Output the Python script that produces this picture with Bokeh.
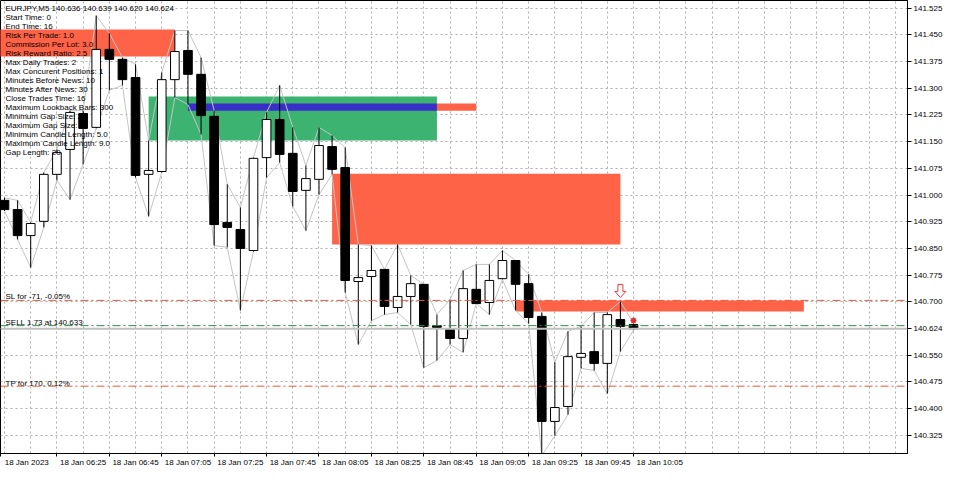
from bokeh.plotting import figure
from bokeh.models import Range1d, FixedTicker, PrintfTickFormatter, Span
from bokeh.core.properties import value
from bokeh.embed import file_html
from bokeh.resources import INLINE

# ---------------- data ----------------
symbol = "EURJPY,M5"
opens = [140.985, 140.959, 140.886, 140.926, 141.058, 141.128, 141.229, 141.190, 141.409, 141.381,
         141.330, 141.058, 141.066, 141.324, 141.406, 141.339, 141.221, 140.923, 140.903, 140.844,
         141.105, 141.212, 141.117, 141.013, 141.044, 141.136, 141.077, 140.757, 140.771, 140.791,
         140.684, 140.715, 140.749, 140.633, 140.622, 140.597, 140.735, 140.698, 140.765, 140.816,
         140.751, 140.659, 140.364, 140.406, 140.544, 140.560, 140.527, 140.650, 140.636]
highs = [140.992, 140.985, 140.923, 141.063, 141.128, 141.237, 141.237, 141.504, 141.454, 141.386,
         141.367, 141.153, 141.344, 141.462, 141.462, 141.386, 141.237, 141.030, 140.965, 141.105,
         141.232, 141.308, 141.190, 141.083, 141.190, 141.167, 141.133, 140.861, 140.858, 140.791,
         140.861, 140.774, 140.749, 140.664, 140.706, 140.788, 140.805, 140.805, 140.844, 140.816,
         140.777, 140.670, 140.530, 140.617, 140.631, 140.670, 140.670, 140.701, 140.639]
lows = [140.955, 140.875, 140.796, 140.909, 141.041, 140.987, 141.086, 141.187, 141.294, 141.308,
        141.049, 140.940, 141.063, 141.274, 141.254, 141.170, 140.858, 140.853, 140.676, 140.841,
        141.049, 141.091, 140.968, 140.900, 141.001, 141.058, 140.726, 140.580, 140.647, 140.664,
        140.670, 140.636, 140.515, 140.535, 140.580, 140.558, 140.695, 140.664, 140.763, 140.676,
        140.639, 140.268, 140.324, 140.383, 140.513, 140.507, 140.442, 140.560, 140.620]
closes = [140.959, 140.886, 140.920, 141.058, 141.119, 141.232, 141.187, 141.409, 141.381, 141.324,
          141.055, 141.069, 141.324, 141.403, 141.339, 141.223, 140.917, 140.909, 140.850, 141.103,
          141.212, 141.114, 141.010, 141.046, 141.139, 141.072, 140.760, 140.768, 140.788, 140.687,
          140.715, 140.751, 140.631, 140.628, 140.597, 140.737, 140.695, 140.760, 140.816, 140.749,
          140.656, 140.364, 140.403, 140.546, 140.555, 140.527, 140.664, 140.631, 140.624]
bars = list(range(len(opens)))

date_label = "18 Jan 2023"
x_tick_bars = [4, 8, 12, 16, 20, 24, 28, 32, 36, 40, 44, 48]
x_tick_labels = ["18 Jan 06:25", "18 Jan 06:45", "18 Jan 07:05", "18 Jan 07:25", "18 Jan 07:45",
                 "18 Jan 08:05", "18 Jan 08:25", "18 Jan 08:45", "18 Jan 09:05", "18 Jan 09:25",
                 "18 Jan 09:45", "18 Jan 10:05"]
price_ticks = [140.325, 140.400, 140.475, 140.550, 140.625, 140.700, 140.775, 140.850, 140.925,
               141.000, 141.075, 141.150, 141.225, 141.300, 141.375, 141.450, 141.525]

# zones (bar index start/end, price top/bottom)
zone_start = [-3, 11, 14, 33, 25, 39]
zone_end = [13, 33, 33, 36, 47, 61]
zone_top = [141.465, 141.277, 141.257, 141.257, 141.060, 140.704]
zone_bottom = [141.389, 141.153, 141.237, 141.237, 140.861, 140.673]
zone_color = ["#FF6347", "#3CB371", "#3A2EC9", "#FF6347", "#FF6347", "#FF6347"]

bid_price = 140.624
sl_price, entry_price, tp_price = 140.704, 140.633, 140.463
sl_text = "SL for -71, -0.05%"
entry_text = "SELL 1.73 at 140.633"
tp_text = "TP for 170, 0.12%"
arrow_bar = 47
star_bar = 48

params = ["Start Time: 0", "End Time: 16", "Risk Per Trade: 1.0", "Commission Per Lot: 3.0",
          "Risk Reward Ratio: 2.5", "Max Daily Trades: 2", "Max Concurent Positions: 1",
          "Minutes Before News: 10", "Minutes After News: 30", "Close Trades Time: 16",
          "Maximum Lookback Bars: 300", "Minimum Gap Size: 2", "Maximum Gap Size: 3",
          "Minimum Candle Length: 5.0", "Maximum Candle Length: 9.0", "Gap Length: 20"]

# ---------------- layout helpers (reference-pixel based) ----------------
BAR_PX = 13.104      # px per bar
X0_PX = 4.0          # px of bar 0
PX_PER_PRICE = 356.0
Y_REF_PX, Y_REF_PRICE = 304.3, 140.700
TOP_PX = 3           # reference px at the top of the frame
FRAME_W, FRAME_H = 907, 453
FONT = "Liberation Sans"
FS = "8px"


def bx(ref_x):
    return (ref_x - X0_PX) / BAR_PX


def py(ref_y):
    return Y_REF_PRICE + (Y_REF_PX - ref_y) / PX_PER_PRICE


def ry(price):
    return Y_REF_PX - (price - Y_REF_PRICE) * PX_PER_PRICE


x_start, x_end = bx(0), bx(FRAME_W)
y_start, y_end = py(TOP_PX + FRAME_H), py(TOP_PX)

p = figure(frame_width=FRAME_W, frame_height=FRAME_H,
           x_range=Range1d(x_start, x_end), y_range=Range1d(y_start, y_end),
           output_backend="svg", toolbar_location=None, y_axis_location="right",
           min_border_left=0, min_border_top=0, min_border_right=0, min_border_bottom=0)
p.background_fill_color = "white"
p.border_fill_color = "white"
p.outline_line_color = "black"
p.outline_line_width = 1

# grids
p.xgrid.ticker = FixedTicker(ticks=list(range(0, 72, 2)))
p.ygrid.ticker = FixedTicker(ticks=price_ticks)
for g in (p.xgrid, p.ygrid):
    g.grid_line_color = "#ADADAD"
    g.grid_line_dash = "2 3"
    g.grid_line_width = 1

# x axis: tick marks at the bars (minor ticks), labels start just right of each mark
LABEL_SHIFT = 2.0
date_center = 1.7
label_centers = [b + LABEL_SHIFT for b in x_tick_bars]
p.xaxis.ticker = FixedTicker(ticks=[date_center] + label_centers, minor_ticks=[x_start] + x_tick_bars)
ov = {date_center: date_label}
for c, t in zip(label_centers, x_tick_labels):
    ov[c] = t
p.xaxis.major_label_overrides = ov
p.xaxis.major_tick_line_color = None
p.xaxis.minor_tick_line_color = "black"
p.xaxis.minor_tick_out = 3
p.xaxis.minor_tick_in = 0
p.xaxis.major_tick_out = 3
p.xaxis.major_tick_in = 0
p.xaxis.major_label_standoff = 1

# y axis
p.yaxis.ticker = FixedTicker(ticks=[t for t in price_ticks if abs(t - bid_price) > 0.01] + [bid_price])
p.yaxis.formatter = PrintfTickFormatter(format="%.3f")
p.yaxis.major_tick_line_color = "black"
p.yaxis.major_tick_out = 4
p.yaxis.major_tick_in = 0
p.yaxis.minor_tick_line_color = None
p.yaxis.major_label_standoff = 2
for ax in (p.xaxis[0], p.yaxis[0]):
    ax.axis_line_color = "black"
    ax.major_label_text_font = FONT
    ax.major_label_text_font_size = FS
    ax.major_label_text_color = "black"

# zones
p.quad(left=zone_start, right=zone_end, top=zone_top, bottom=zone_bottom,
       fill_color=zone_color, line_color=None)

# high / low polylines
p.line(bars, highs, line_color="#C4C4C4", line_width=1)
p.line(bars, lows, line_color="#C4C4C4", line_width=1)

# trade lines
p.add_layout(Span(location=bid_price, dimension="width", line_color="#C0C0C0", line_width=2))
for lvl in (sl_price, tp_price):
    p.add_layout(Span(location=lvl, dimension="width", line_color="#E35A3E", line_width=1,
                      line_dash="8 3 2 3"))
p.add_layout(Span(location=entry_price, dimension="width", line_color="#2E8B45", line_width=1,
                  line_dash="8 3 2 3"))

# candles
body_top = [max(o, c) for o, c in zip(opens, closes)]
body_bot = [min(o, c) for o, c in zip(opens, closes)]
body_fill = ["black" if c < o else "white" for o, c in zip(opens, closes)]
p.segment(x0=bars, y0=highs, x1=bars, y1=lows, line_color="black", line_width=1)
p.vbar(x=bars, width=0.66, top=body_top, bottom=body_bot, fill_color=body_fill,
       line_color="black", line_width=1)

# signal arrow (hollow, above the bar high)
tip = ry(highs[arrow_bar]) - 4
shape = [(-2.5, -13), (2.5, -13), (2.5, -6), (5.5, -6), (0, 0), (-5.5, -6), (-2.5, -6)]
p.patch([arrow_bar + dx / BAR_PX for dx, dy in shape], [py(tip + dy) for dx, dy in shape],
        fill_color="white", line_color="#F03C3C", line_width=1)
p.scatter([star_bar], [py(ry(highs[star_bar]) - 3)], marker="asterisk", size=6,
          line_color="#E03030", line_width=1.5)

# texts
header = f"{symbol}  {opens[-1]:.3f} {highs[-1]:.3f} {lows[-1]:.3f} {closes[-1]:.3f}"
lines = [header] + params
p.text(x=[bx(5)] * len(lines), y=[py(10.5 + 9 * i) for i in range(len(lines))], text=lines,
       text_font=value(FONT), text_font_size=FS, text_baseline="middle", text_color="black")
p.text(x=[bx(5)] * 3, y=[py(298.5), py(324.5), py(385.5)], text=[sl_text, entry_text, tp_text],
       text_font=value(FONT), text_font_size=FS, text_baseline="middle", text_color="black")

open("out.html", "w").write(file_html(p, INLINE))
